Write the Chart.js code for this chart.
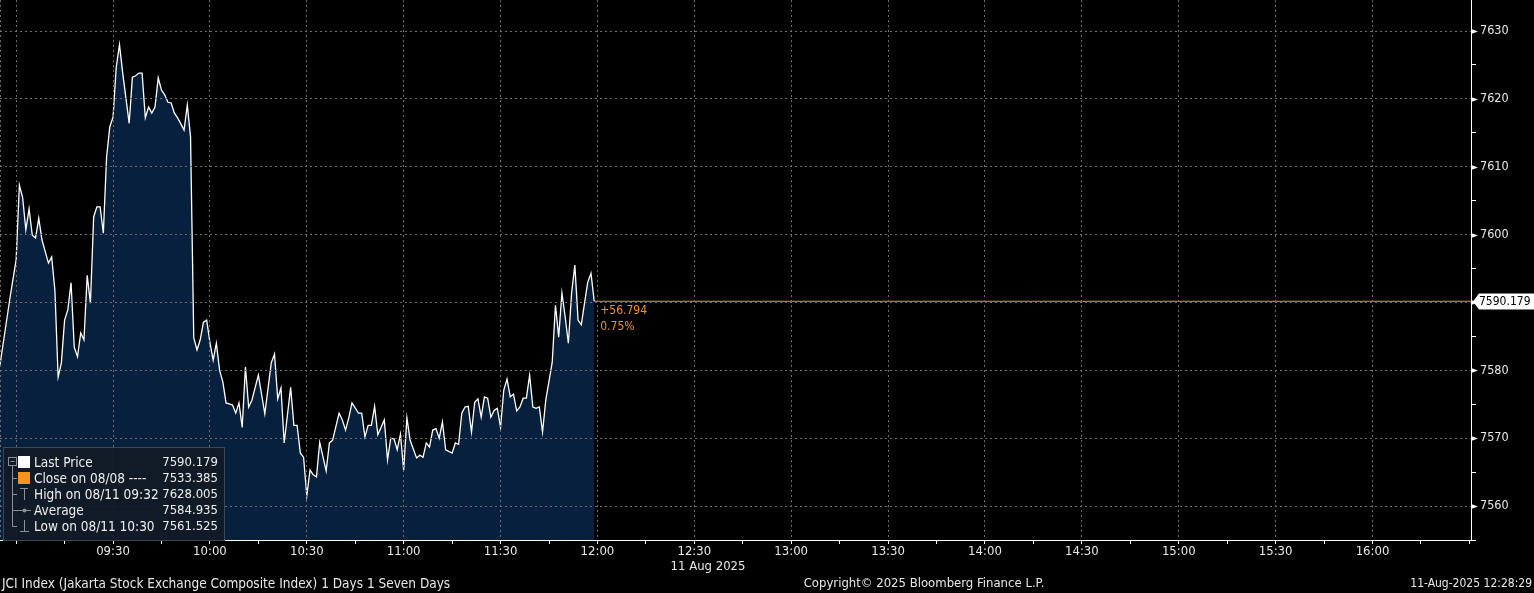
<!DOCTYPE html>
<html>
<head>
<meta charset="UTF-8">
<title>JCI Index intraday</title>
<script src="https://cdn.jsdelivr.net/npm/chart.js"></script>
<style>
  html, body { margin: 0; padding: 0; background: #000; }
  #wrap { width: 1534px; height: 593px; position: relative; }
</style>
</head>
<body>
<div id="wrap"><canvas id="chart"></canvas></div>
<script>
// intraday prices
const times = [
  '08:55','08:58','09:00','09:01','09:02','09:03','09:04','09:05','09:06','09:07','09:08','09:10','09:11','09:12',
  '09:13','09:14','09:15','09:16','09:17','09:18','09:19','09:20','09:21','09:22','09:23','09:24','09:25','09:26',
  '09:27','09:28','09:29','09:30','09:31','09:32','09:33','09:35','09:36','09:37','09:38','09:39','09:40','09:41',
  '09:42','09:43','09:44','09:45','09:46','09:47','09:48','09:49','09:50','09:52','09:53','09:54','09:55','09:56',
  '09:57','09:58','09:59','10:00','10:01','10:02','10:03','10:04','10:05','10:07','10:08','10:09','10:10','10:11',
  '10:12','10:13','10:15','10:17','10:19','10:20','10:21','10:22','10:23','10:25','10:26','10:27','10:28','10:29',
  '10:30','10:31','10:32','10:33','10:34','10:36','10:37','10:38','10:40','10:41','10:42','10:43','10:44','10:46',
  '10:47','10:48','10:49','10:50','10:51','10:52','10:54','10:55','10:56','10:57','10:58','10:59','11:00','11:01',
  '11:02','11:04','11:05','11:06','11:07','11:08','11:09','11:10','11:11','11:12','11:13','11:15','11:16','11:17',
  '11:18','11:19','11:20','11:21','11:22','11:23','11:24','11:25','11:26','11:27','11:28','11:29','11:30','11:31',
  '11:32','11:33','11:34','11:35','11:36','11:37','11:38','11:39','11:40','11:41','11:42','11:43','11:44','11:46',
  '11:47','11:48','11:49','11:50','11:51','11:52','11:53','11:54','11:55','11:56','11:57','11:58','11:59'
];
const prices = [
  7580.8,7590.4,7596.3,7607.3,7605.5,7600.7,7603.8,7599.9,7599.5,7602.4,7599.2,7595.8,7596.7,7591.8,
  7579.0,7581.1,7587.4,7588.9,7592.9,7583.4,7582.0,7585.5,7584.5,7594.0,7589.9,7602.6,7604.1,7604.1,
  7600.2,7611.4,7615.9,7617.3,7624.7,7628.005,7623.8,7616.4,7623.2,7623.4,7623.8,7623.8,7617.2,7618.8,
  7617.9,7618.8,7623.1,7621.3,7620.6,7619.5,7619.4,7617.9,7617.2,7615.4,7619.1,7614.4,7584.8,7583.0,
  7584.5,7587.1,7587.4,7584.1,7581.5,7584.0,7580.0,7578.3,7575.2,7574.9,7573.7,7575.2,7571.6,7580.5,
  7574.6,7575.6,7579.3,7573.6,7581.1,7582.4,7575.8,7577.4,7569.3,7577.5,7571.9,7571.9,7567.8,7567.2,
  7561.525,7565.3,7564.6,7564.3,7569.4,7565.2,7569.3,7569.7,7573.7,7572.7,7571.2,7573.0,7575.2,7573.7,
  7573.7,7570.2,7571.9,7571.9,7574.7,7570.5,7572.7,7566.8,7570.0,7569.9,7568.3,7570.6,7565.3,7573.0,
  7569.7,7567.1,7567.5,7567.2,7569.3,7568.7,7571.2,7571.4,7570.0,7572.4,7568.3,7567.8,7569.3,7569.1,
  7573.7,7574.6,7574.7,7570.9,7575.3,7575.8,7573.1,7576.1,7575.9,7573.1,7574.1,7574.4,7571.6,7577.1,
  7578.7,7576.1,7576.5,7574.0,7574.6,7575.9,7575.9,7579.3,7574.6,7574.4,7574.6,7570.9,7575.6,7581.2,
  7589.6,7584.9,7591.4,7587.9,7584.0,7591.4,7595.5,7587.4,7586.7,7589.9,7593.0,7594.3,7590.179
];
const yTicks = [7560, 7570, 7580, 7590, 7600, 7610, 7620, 7630];
const xLabels = ['09:30','10:00','10:30','11:00','11:30','12:00','12:30','13:00','13:30','14:00','14:30','15:00','15:30','16:00'];
const legendLabels = ['Last Price', 'Close on 08/08 ----', 'High on 08/11 09:32', 'Average', 'Low on 08/11 10:30'];
const legendValues = ['7590.179', '7533.385', '7628.005', '7584.935', '7561.525'];
const lastPrice = 7590.179;
const changeLines = ['+56.794', '0.75%'];
const dateLabel = '11 Aug 2025';
const footerLeft = 'JCI Index (Jakarta Stock Exchange Composite Index) 1 Days 1 Seven Days';
const footerMid = 'Copyright\u00A9 2025 Bloomberg Finance L.P.';
const footerRight = '11-Aug-2025 12:28:29';

const FONT = "'DejaVu Sans Condensed', 'DejaVu Sans', sans-serif";
const ORANGE = '#f0922b';
const GRID = '#6e6e6e';
const TEXT = '#e8e8e8';

function toMin(s) {
  const p = s.split(':');
  return parseInt(p[0]) * 60 + parseInt(p[1]);
}

const xMin = 535, xMax = 990.5;
const priceData = times.map((t, i) => ({ x: toMin(t), y: prices[i] }));
const lastX = toMin(times[times.length - 1]);
const refLine = [{ x: lastX, y: lastPrice }, { x: xMax, y: lastPrice }];

const overlay = {
  id: 'overlay',
  afterDraw(chart) {
    const ctx = chart.ctx;
    const xs = chart.scales.x, ys = chart.scales.y;
    const area = chart.chartArea;
    ctx.save();

    // dashed left edge
    ctx.strokeStyle = GRID;
    ctx.setLineDash([2, 3]);
    ctx.beginPath();
    ctx.moveTo(0.5, area.top);
    ctx.lineTo(0.5, area.bottom);
    ctx.stroke();
    ctx.setLineDash([]);

    // arrow heads on major y ticks
    ctx.fillStyle = '#ffffff';
    yTicks.forEach(v => {
      const py = Math.round(ys.getPixelForValue(v)) + 0.5;
      ctx.beginPath();
      ctx.moveTo(area.right, py - 2.5);
      ctx.lineTo(area.right + 7, py);
      ctx.lineTo(area.right, py + 2.5);
      ctx.closePath();
      ctx.fill();
    });

    // last price tag
    const ty = Math.round(ys.getPixelForValue(lastPrice)) + 0.5;
    const tx = area.right + 2;
    ctx.beginPath();
    ctx.moveTo(tx, ty);
    ctx.lineTo(tx + 6, ty - 8);
    ctx.lineTo(1534, ty - 8);
    ctx.lineTo(1534, ty + 8);
    ctx.lineTo(tx + 6, ty + 8);
    ctx.closePath();
    ctx.fill();
    ctx.fillStyle = '#000';
    ctx.font = '12px ' + FONT;
    ctx.textBaseline = 'middle';
    ctx.textAlign = 'left';
    ctx.fillText(lastPrice.toFixed(3), tx + 6, ty + 0.5);

    // change annotation
    const ax = xs.getPixelForValue(lastX) + 6;
    ctx.fillStyle = ORANGE;
    ctx.fillText(changeLines[0], ax, ty + 9);
    ctx.fillText(changeLines[1], ax, ty + 25);

    // date under the axis
    ctx.font = '13px ' + FONT;
    ctx.fillStyle = TEXT;
    ctx.textAlign = 'center';
    ctx.fillText(dateLabel, 708, 567);

    // footer
    ctx.textAlign = 'center';
    ctx.fillText(footerMid, 924, 584);
    ctx.font = '13.5px ' + FONT;
    ctx.textAlign = 'left';
    ctx.fillText(footerLeft, 2, 584);
    ctx.font = '12px ' + FONT;
    ctx.textAlign = 'right';
    ctx.fillText(footerRight, 1532, 584);

    // legend box
    const lx = 3.5, ly = 447.5, lw = 221, lh = 93;
    ctx.fillStyle = 'rgba(18,27,38,0.92)';
    ctx.fillRect(lx, ly, lw, lh);
    ctx.strokeStyle = '#3b4858';
    ctx.lineWidth = 1;
    ctx.strokeRect(lx, ly, lw, lh);

    const rowY = [462, 478, 494, 510, 526];
    const treeC = '#8c9198';
    ctx.strokeStyle = treeC;
    // tree
    ctx.strokeRect(8.5, 457.5, 8, 8);
    ctx.beginPath();
    ctx.moveTo(10.5, 461.5); ctx.lineTo(14.5, 461.5);
    ctx.moveTo(12.5, 466); ctx.lineTo(12.5, 526.5);
    for (let i = 1; i < rowY.length; i++) {
      ctx.moveTo(12.5, rowY[i] + 0.5); ctx.lineTo(17, rowY[i] + 0.5);
    }
    ctx.stroke();
    // icons
    ctx.fillStyle = '#ffffff';
    ctx.fillRect(18, 456, 12, 12);
    ctx.fillStyle = '#f7941d';
    ctx.fillRect(18, 472, 12, 12);
    ctx.beginPath();
    ctx.moveTo(20, 488.5); ctx.lineTo(28, 488.5);
    ctx.moveTo(24.5, 488.5); ctx.lineTo(24.5, 500);
    ctx.moveTo(17, 510.5); ctx.lineTo(31, 510.5);
    ctx.moveTo(24.5, 520); ctx.lineTo(24.5, 531);
    ctx.moveTo(20, 531.5); ctx.lineTo(29, 531.5);
    ctx.stroke();
    ctx.fillStyle = treeC;
    ctx.beginPath();
    ctx.arc(24.5, 510.5, 2, 0, Math.PI * 2);
    ctx.fill();

    ctx.fillStyle = '#eeeeee';
    legendLabels.forEach((t, i) => {
      ctx.font = '13.5px ' + FONT;
      ctx.textAlign = 'left';
      ctx.fillText(t, 34, rowY[i] + 1);
      ctx.font = '13px ' + FONT;
      ctx.textAlign = 'right';
      ctx.fillText(legendValues[i], 218, rowY[i] + 1);
    });
    ctx.restore();
  }
};

Chart.defaults.font.family = FONT;
Chart.defaults.font.size = 13;

new Chart(document.getElementById('chart'), {
  type: 'line',
  data: {
    datasets: [
      {
        data: priceData,
        borderColor: '#ffffff',
        borderWidth: 1.3,
        backgroundColor: '#06203d',
        fill: 'start',
        pointRadius: 0,
        tension: 0
      },
      {
        data: refLine,
        borderColor: ORANGE,
        borderWidth: 1,
        pointRadius: 0,
        fill: false
      }
    ]
  },
  options: {
    responsive: true,
    maintainAspectRatio: false,
    animation: false,
    layout: { padding: 0 },
    plugins: { legend: { display: false }, tooltip: { enabled: false } },
    scales: {
      x: {
        type: 'linear',
        min: xMin,
        max: xMax,
        afterBuildTicks(s) {
          const t = [];
          for (let m = 540; m <= 990; m += 15) t.push({ value: m });
          s.ticks = t;
        },
        afterFit(s) { s.height = 53; s.paddingLeft = 0; s.paddingRight = 0; },
        ticks: {
          color: TEXT,
          font: { size: 13 },
          padding: 0,
          maxRotation: 0,
          autoSkip: false,
          callback(v) {
            const h = String(Math.floor(v / 60)).padStart(2, '0');
            const m = String(v % 60).padStart(2, '0');
            const s = h + ':' + m;
            return xLabels.includes(s) ? s : '';
          }
        },
        grid: {
          z: 1,
          color: ctx => (ctx.tick && ctx.tick.value % 30 === 0 && ctx.tick.value < 990) ? GRID : 'rgba(0,0,0,0)',
          tickColor: '#ffffff',
          tickLength: 4
        },
        border: { display: true, color: '#ffffff', width: 1, dash: [2, 3], z: 2 }
      },
      y: {
        position: 'right',
        min: 7555,
        max: 7634.57,
        afterBuildTicks(s) {
          const t = [];
          for (let v = 7555; v <= 7630; v += 5) t.push({ value: v });
          s.ticks = t;
        },
        afterFit(s) { s.width = 63; s.paddingTop = 0; s.paddingBottom = 0; },
        ticks: {
          color: TEXT,
          font: { size: 12.5 },
          padding: 4,
          callback(v) { return yTicks.includes(v) ? String(v) : ''; }
        },
        grid: {
          z: 1,
          color: ctx => (ctx.tick && yTicks.includes(ctx.tick.value)) ? GRID : 'rgba(0,0,0,0)',
          tickColor: ctx => (ctx.tick && yTicks.includes(ctx.tick.value)) ? 'rgba(0,0,0,0)' : '#ffffff',
          tickLength: 5
        },
        border: { display: true, color: '#ffffff', width: 1, dash: [2, 3], z: 2 }
      }
    }
  },
  plugins: [overlay]
});
</script>
</body>
</html>
